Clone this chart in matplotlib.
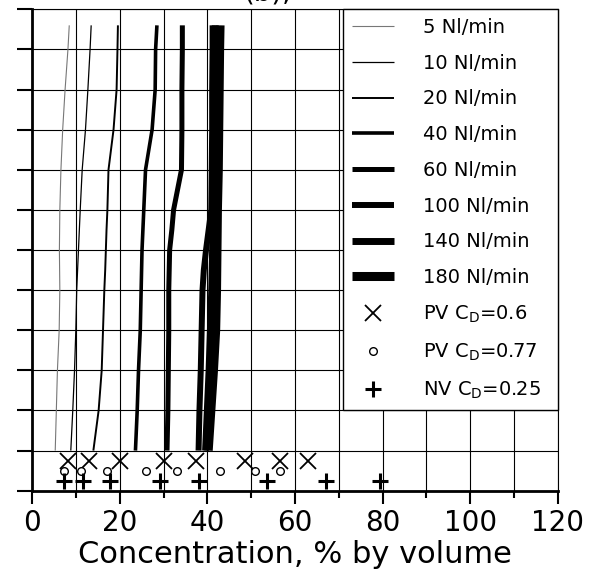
import matplotlib.pyplot as plt
from matplotlib.ticker import MultipleLocator, NullFormatter

# heights (grid units) at which each concentration profile is read
height = [1, 2, 3, 4, 5, 5.5, 6, 6.5, 7, 8, 9, 10, 11, 11.6]

c5 = [5.3, 5.55, 5.8, 6.2, 6.35, 6.3, 6.25, 6.3, 6.35, 6.6, 7.0, 7.55, 8.2, 8.5]
c10 = [8.85, 9.3, 9.7, 10.0, 10.2, 10.4, 10.6, 10.8, 11.0, 11.45, 12.2, 12.75, 13.25, 13.5]
c20 = [14.0, 15.2, 15.9, 16.2, 16.5, 16.7, 16.85, 17.0, 17.2, 17.45, 18.6, 19.3, 19.5, 19.6]
c40 = [23.6, 24.0, 24.3, 24.7, 24.9, 25.0, 25.1, 25.3, 25.5, 25.9, 27.4, 28.1, 28.2, 28.5]
c60 = [30.8, 31.0, 31.1, 31.2, 31.2, 31.3, 31.4, 31.9, 32.3, 34.1, 34.2, 34.2, 34.3, 34.3]
c100 = [38.0, 38.2, 38.5, 38.7, 38.9, 39.2, 39.7, 40.3, 40.9, 41.0, 41.1, 41.1, 41.2, 41.2]
c140 = [39.6, 40.0, 40.4, 40.7, 41.0, 41.1, 41.2, 41.3, 41.4, 41.5, 41.6, 41.7, 41.8, 41.8]
c180 = [40.2, 40.8, 41.4, 41.9, 42.1, 42.15, 42.2, 42.25, 42.3, 42.5, 42.6, 42.7, 42.8, 42.9]

flow_labels = ['5 Nl/min', '10 Nl/min', '20 Nl/min', '40 Nl/min',
               '60 Nl/min', '100 Nl/min', '140 Nl/min', '180 Nl/min']

pv06_x = [8.3, 13.0, 20.0, 30.0, 37.5, 48.5, 56.5, 63.0]
pv077_x = [7.2, 11.1, 17.2, 26.1, 33.0, 42.8, 50.8, 56.6]
nv025_x = [7.2, 11.7, 17.7, 29.3, 38.2, 53.5, 67.0, 79.3]
pv06_y = 0.75
pv077_y = 0.5
nv025_y = 0.23

profiles = [c5, c10, c20, c40, c60, c100, c140, c180]
widths = [0.8, 0.9, 1.4, 2.6, 3.6, 4.3, 5.0, 6.5]
colors = ['#777777', 'k', 'k', 'k', 'k', 'k', 'k', 'k']

fig = plt.figure(figsize=(5.93, 5.73), dpi=100)
ax = fig.add_axes([32/593, 1-490.7/573, 526/593, 481.4/573])

for c, lab, lw, col in zip(profiles, flow_labels, widths, colors):
    ax.plot(c, height, color=col, lw=lw, label=lab, solid_capstyle='butt')

ax.plot(pv06_x, [pv06_y]*len(pv06_x), ls='none', marker='x', ms=12, mew=1.3,
        color='k', label='PV C$_\\mathregular{D}$=0.6')
ax.plot(pv077_x, [pv077_y]*len(pv077_x), ls='none', marker='o', ms=5.5, mew=1.0,
        mfc='white', mec='k', label='PV C$_\\mathregular{D}$=0.77')
ax.plot(nv025_x, [nv025_y]*len(nv025_x), ls='none', marker='+', ms=12, mew=2.2,
        color='k', label='NV C$_\\mathregular{D}$=0.25')

ax.set_xlim(0, 120)
ax.set_ylim(0, 12)
ax.xaxis.set_major_locator(MultipleLocator(20))
ax.xaxis.set_minor_locator(MultipleLocator(10))
ax.yaxis.set_major_locator(MultipleLocator(1))
ax.yaxis.set_major_formatter(NullFormatter())
ax.grid(True, which='both', color='k', lw=0.8)
ax.set_axisbelow(True)
ax.tick_params(axis='x', which='major', length=9, width=1.5, labelsize=20, pad=4)
ax.tick_params(axis='x', which='minor', length=5, width=1.5)
ax.tick_params(axis='y', which='major', length=11, width=1.5)
for s in ['left', 'bottom']:
    ax.spines[s].set_linewidth(2)
for s in ['top', 'right']:
    ax.spines[s].set_linewidth(0.8)
ax.set_xlabel('Concentration, % by volume', fontsize=22, labelpad=2)

leg = ax.legend(loc='upper left', bbox_to_anchor=(70.9/120, 0, 49.1/120, 1),
                mode='expand', borderaxespad=0, fontsize=14, numpoints=1,
                handlelength=2.2, handletextpad=1.5, labelspacing=0.86,
                borderpad=0.45, fancybox=False, framealpha=1, edgecolor='k')
leg.get_frame().set_linewidth(1.0)

# title sits mostly above the top edge, only its lower part shows
fig.text(268/593, 1.0, '(b),', fontsize=20, ha='center', va='baseline')

plt.savefig('out.png', dpi=100)
